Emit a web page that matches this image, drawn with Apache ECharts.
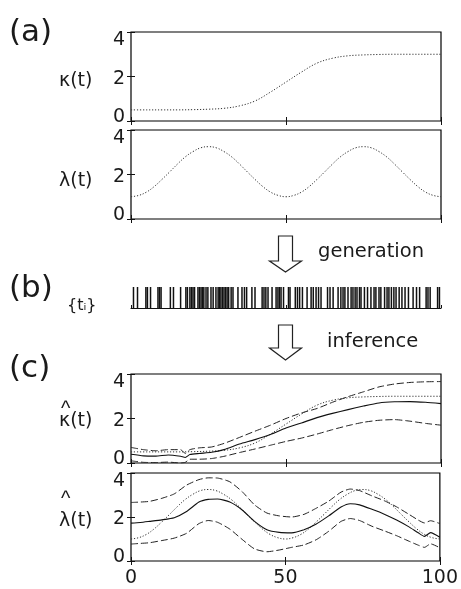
<!DOCTYPE html>
<html><head><meta charset="utf-8">
<script src="https://cdn.jsdelivr.net/npm/echarts@6/dist/echarts.min.js"></script>
<style>html,body{margin:0;padding:0;background:#fff}#c{width:461px;height:589px}</style>
</head><body><div id="c"></div>
<script>
// ---- data ----
const tKappa = [0,5,10,15,20,25,30,35,40,45,50,55,60,65,70,75,80,85,90,95,100];
const kappaTrue = [0.5,0.5,0.5,0.5,0.51,0.53,0.57,0.68,0.9,1.3,1.75,2.2,2.6,2.82,2.93,2.97,2.99,3.0,3.0,3.0,3.0];
const tLambda = [0,2.5,5,7.5,10,12.5,15,17.5,20,22.5,25,27.5,30,32.5,35,37.5,40,42.5,45,47.5,50,52.5,55,57.5,60,62.5,65,67.5,70,72.5,75,77.5,80,82.5,85,87.5,90,92.5,95,97.5,100];
const lambdaTrue = [1.0,1.06,1.21,1.46,1.78,2.12,2.47,2.79,3.03,3.2,3.25,3.2,3.03,2.79,2.47,2.12,1.78,1.46,1.21,1.06,1.0,1.06,1.21,1.46,1.78,2.12,2.47,2.79,3.03,3.2,3.25,3.2,3.03,2.79,2.47,2.12,1.78,1.46,1.21,1.06,1.0];
const spikeTimes = [0.8,2.1,4.8,5.3,6.3,8.7,9.2,9.7,12.7,13.7,16.0,17.7,18.2,19.0,19.5,20.0,20.5,21.6,22.1,22.6,23.1,23.5,24.2,24.8,25.8,26.5,27.4,28.1,28.5,29.0,29.5,30.0,30.5,31.0,31.5,32.3,32.9,34.5,35.8,36.6,37.3,39.0,40.0,42.3,42.9,43.5,44.2,45.5,46.8,47.4,47.9,48.4,49.2,50.8,51.3,53.0,53.7,54.4,55.3,56.8,58.1,58.8,59.7,60.5,61.3,63.4,64.2,65.2,66.8,67.7,68.4,69.0,70.0,71.0,71.6,72.3,72.9,73.7,74.2,75.3,76.3,77.4,78.4,79.0,80.0,80.6,81.8,82.6,83.2,84.0,84.8,85.5,86.5,87.4,88.4,89.5,91.0,92.1,93.1,95.2,95.8,96.5,98.9,99.5];
const tKhat = [0,4,8,12,16,17.5,19,22,26,30,35,40,45,50,55,60,65,70,75,80,85,90,95,100];
const kappaMean  = [0.39,0.32,0.31,0.36,0.3,0.25,0.38,0.43,0.48,0.6,0.85,1.05,1.28,1.57,1.8,2.04,2.23,2.4,2.56,2.7,2.75,2.76,2.73,2.67];
const kappaUpper = [0.7,0.6,0.55,0.6,0.6,0.43,0.6,0.68,0.72,0.88,1.15,1.43,1.7,2.0,2.25,2.45,2.73,2.98,3.2,3.42,3.55,3.62,3.65,3.66];
const kappaLower = [0.1,0.03,0.02,0.04,0.0,0.03,0.17,0.17,0.2,0.3,0.47,0.63,0.8,0.97,1.12,1.3,1.5,1.68,1.83,1.92,1.95,1.88,1.78,1.7];
const tLhat = [0,3,6,10,14,18,22,25,28,32,36,40,44,48,52,56,60,64,68,71,74,78,82,86,90,93,95,97,100];
const lambdaMean  = [1.72,1.75,1.8,1.87,1.97,2.25,2.68,2.8,2.82,2.68,2.32,1.8,1.42,1.3,1.28,1.42,1.68,2.05,2.45,2.6,2.55,2.35,2.13,1.86,1.55,1.28,1.12,1.29,1.08];
const lambdaUpper = [2.66,2.68,2.71,2.85,3.05,3.45,3.7,3.78,3.77,3.6,3.15,2.55,2.18,2.05,2.0,2.12,2.4,2.72,3.13,3.27,3.2,2.96,2.74,2.46,2.12,1.86,1.73,1.83,1.7];
const lambdaLower = [0.77,0.8,0.83,0.93,1.04,1.26,1.7,1.84,1.76,1.45,0.98,0.55,0.42,0.5,0.62,0.73,0.97,1.35,1.8,1.93,1.84,1.58,1.37,1.15,0.9,0.72,0.62,0.78,0.6];
const yTicks = [0,2,4];
const xTicks = [0,50,100];

// ---- layout ----
const FONT = 'DejaVu Sans';
const TXT = '#1a1a1a';
const L = 131, W = 310;
const panels = [
  {top:32, height:89},
  {top:130, height:89},
  {top:374, height:89},
  {top:473, height:88}
];
const grids = [], xAxis = [], yAxis = [], series = [];
const pair = (ts, vs) => ts.map((t,i)=>[t, vs[i]]);
const rich = {
  t:{fontFamily:FONT,fontSize:19,color:TXT,padding:[16,0,0,0]},
  m:{fontFamily:FONT,fontSize:19,color:TXT,padding:[5,0,0,0]},
  b:{fontFamily:FONT,fontSize:19,color:TXT,padding:[0,0,7,0]}
};
panels.forEach((p, i) => {
  grids.push({left:L, top:p.top, width:W, height:p.height, show:true, borderColor:'#000', borderWidth:1.2, backgroundColor:'transparent'});
  const tick = {show:true, inside:true, length:4, lineStyle:{color:'#111', width:1}};
  xAxis.push({gridIndex:i, type:'value', min:0, max:100, interval:50, position:'bottom',
    axisLine:{show:false}, axisTick:tick, splitLine:{show:false},
    axisLabel:{show:i===3, margin:8, fontFamily:FONT, fontSize:19, color:TXT, formatter:v=>xTicks.includes(v)?String(v):''}});
  xAxis.push({gridIndex:i, type:'value', min:0, max:100, interval:50, position:'top',
    axisLine:{show:false}, axisTick:tick, splitLine:{show:false}, axisLabel:{show:false}});
  yAxis.push({gridIndex:i, type:'value', min:0, max:4, interval:2, position:'left',
    axisLine:{show:false}, axisTick:tick, splitLine:{show:false},
    axisLabel:{show:true, margin:6, fontFamily:FONT, fontSize:19, color:TXT,
      formatter:v=>yTicks.includes(v)?(v===4?'{t|4}':v===2?'{m|2}':'{b|0}'):'', rich:rich}});
  yAxis.push({gridIndex:i, type:'value', min:0, max:4, interval:2, position:'right',
    axisLine:{show:false}, axisTick:tick, splitLine:{show:false}, axisLabel:{show:false}});
});
grids.push({left:L, top:287, width:W, height:21, show:false});
xAxis.push({gridIndex:4, type:'value', min:0, max:100, interval:50, position:'bottom',
  axisLine:{show:true, onZero:false, lineStyle:{color:'#111', width:1.2}},
  axisTick:{show:true, inside:true, length:3, lineStyle:{color:'#111'}},
  axisLabel:{show:false}, splitLine:{show:false}});
yAxis.push({gridIndex:4, type:'value', min:0, max:1, show:false});

const dotted = {color:'#333', width:1, type:[1.2,1.8]};
const dashed = {color:'#222', width:1, type:[7,3]};
const solid  = {color:'#111', width:1.1, type:'solid'};
function line(gi, data, style, smooth){
  series.push({type:'line', xAxisIndex:gi*2, yAxisIndex:gi*2, data:data, showSymbol:false, symbol:'none',
    smooth:smooth, lineStyle:style, animation:false, silent:true});
}
line(0, pair(tKappa, kappaTrue), dotted, 0.4);
line(1, pair(tLambda, lambdaTrue), dotted, 0.4);
line(2, pair(tKappa, kappaTrue), dotted, 0.4);
line(2, pair(tKhat, kappaMean), solid, 0.2);
line(2, pair(tKhat, kappaUpper), dashed, 0.2);
line(2, pair(tKhat, kappaLower), dashed, 0.2);
line(3, pair(tLambda, lambdaTrue), dotted, 0.4);
line(3, pair(tLhat, lambdaMean), solid, 0.2);
line(3, pair(tLhat, lambdaUpper), dashed, 0.2);
line(3, pair(tLhat, lambdaLower), dashed, 0.2);
series.push({type:'bar', xAxisIndex:8, yAxisIndex:8, barWidth:1.5, data:spikeTimes.map(t=>[t,1]),
  itemStyle:{color:'#111'}, animation:false, silent:true});

function txt(x, y, s, size, extra){
  return Object.assign({type:'text', x:x, y:y, silent:true,
    style:{text:s, fontFamily:FONT, fontSize:size, fill:TXT, textVerticalAlign:'middle'}}, extra||{});
}
function hat(x, y){
  return {type:'text', x:x, y:y, silent:true, style:{text:'^', fontFamily:'Liberation Sans', fontSize:20, fill:TXT, textVerticalAlign:'top'}};
}
function arrow(y0, y1, y2){
  return {type:'polygon', silent:true,
    shape:{points:[[278.5,y0],[292.5,y0],[292.5,y1],[301.5,y1],[285.5,y2],[269.5,y1],[278.5,y1]]},
    style:{fill:'none', stroke:'#222', lineWidth:1.2}};
}
const graphic = [
  txt(9, 33, '(a)', 31), txt(9, 289, '(b)', 31), txt(9, 369, '(c)', 31),
  txt(59, 81, 'κ(t)', 19), txt(59, 181, 'λ(t)', 19),
  txt(59, 421, 'κ(t)', 19), txt(59, 521, 'λ(t)', 19),
  hat(61, 399), hat(61, 489),
  txt(67, 306, '{tᵢ}', 16),
  txt(318, 252, 'generation', 19.5), txt(327, 342, 'inference', 19.5),
  arrow(236, 261, 272), arrow(325, 348, 360)
];

const chart = echarts.init(document.getElementById('c'), null, {renderer:'canvas'});
chart.setOption({animation:false, backgroundColor:'#fff', grid:grids, xAxis:xAxis, yAxis:yAxis, series:series, graphic:graphic});
</script></body></html>
